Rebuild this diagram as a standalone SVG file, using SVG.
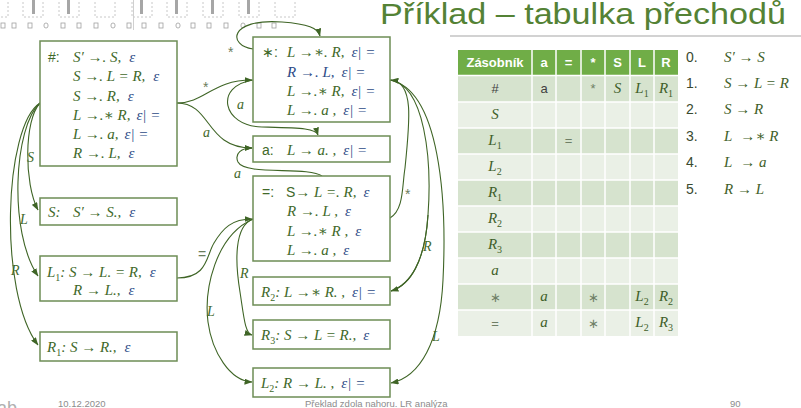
<svg xmlns="http://www.w3.org/2000/svg" width="801" height="408" viewBox="0 0 801 408">
  <style>
    .box { fill: #ffffff; stroke: #6d8d55; stroke-width: 1.5; }
    .m { font-family: "Liberation Serif", "DejaVu Serif", serif; font-style: italic; font-size: 15px; fill: #41692a; }
    .b { fill: #2d4b87; }
    .sub { font-size: 10px; font-style: normal; }
    .st { font-family: "Liberation Sans", Arial, sans-serif; font-size: 14px; fill: #41692a; }
    .edge { fill: none; stroke: #3f6526; stroke-width: 1.1; marker-end: url(#arr); }
    .edge0 { fill: none; stroke: #3f6526; stroke-width: 1.1; }
    .el { font-family: "Liberation Serif", "DejaVu Serif", serif; font-style: italic; font-size: 14px; fill: #41692a; }
    .es { font-family: "Liberation Sans", Arial, sans-serif; font-size: 14px; fill: #6a7d5c; }
    .hd { font-family: "Liberation Sans", Arial, sans-serif; font-weight: bold; font-size: 13px; fill: #ffffff; text-anchor: middle; }
    .cs { font-family: "Liberation Sans", Arial, sans-serif; font-size: 13px; fill: #404040; text-anchor: middle; }
    .cm { font-family: "Liberation Serif", "DejaVu Serif", serif; font-style: italic; font-size: 15px; fill: #3f5f2a; text-anchor: middle; }
    .cg { font-family: "Liberation Sans", Arial, sans-serif; font-size: 13px; fill: #6f7f66; text-anchor: middle; }
    .num { font-family: "Liberation Sans", Arial, sans-serif; font-size: 14px; fill: #3a4a30; }
    .rule { font-family: "Liberation Serif", "DejaVu Serif", serif; font-style: italic; font-size: 15px; fill: #3f5f2a; }
    .foot { font-family: "Liberation Sans", Arial, sans-serif; font-size: 9.5px; fill: #8c8c8c; }
    .dash { fill: none; stroke: #c8c8c8; stroke-width: 1; stroke-dasharray: 2 2; }
    .bar { fill: #a6a6a6; }
    .sq { fill: none; stroke: #a0a0a0; stroke-width: 0.8; }
  </style>
  <defs>
    <marker id="arr" markerWidth="8" markerHeight="6" refX="7.5" refY="3" orient="auto" markerUnits="userSpaceOnUse">
      <path d="M0,0 L8,3 L0,6 z" fill="#3f6526"/>
    </marker>
  </defs>

  <!-- page chrome: placeholder strip along the top edge -->
  <g id="chrome">
    <rect class="dash" x="-12" y="-2" width="20" height="19"/>
    <rect class="dash" x="23" y="-2" width="20" height="19"/>
    <rect class="dash" x="59" y="-2" width="20" height="19"/>
    <rect class="dash" x="95" y="-2" width="20" height="19"/>
    <rect class="dash" x="132" y="-2" width="20" height="19"/>
    <rect class="dash" x="167" y="-2" width="20" height="19"/>
    <rect class="dash" x="203" y="-2" width="20" height="19"/>
    <rect class="dash" x="239" y="-2" width="20" height="19"/>
    <rect class="dash" x="275" y="-2" width="20" height="19"/>
    <rect class="bar" x="32" y="0" width="3" height="14"/>
    <rect class="bar" x="67" y="0" width="3" height="14"/>
    <rect class="bar" x="140" y="0" width="3" height="14"/>
    <rect class="bar" x="175" y="0" width="3" height="14"/>
    <rect class="bar" x="211" y="0" width="3" height="14"/>
    <rect class="bar" x="247" y="0" width="3" height="14"/>
    <line x1="133.5" y1="0" x2="133.5" y2="30" stroke="#d0d0d0" stroke-width="1"/>
    <rect class="sq" x="1" y="23" width="4" height="5"/>
    <rect class="sq" x="12" y="23" width="4" height="5"/>
    <rect class="sq" x="28" y="23" width="4" height="5"/>
    <rect class="sq" x="44" y="23" width="4" height="5" rx="2"/>
    <rect class="sq" x="61" y="23" width="4" height="5"/>
    <rect class="sq" x="77" y="23" width="4" height="5"/>
    <rect class="sq" x="94" y="23" width="4" height="5"/>
    <rect class="sq" x="111" y="23" width="4" height="5" rx="2"/>
    <rect class="sq" x="127" y="23" width="4" height="5"/>
    <rect class="sq" x="142" y="23" width="4" height="5"/>
    <rect class="sq" x="159" y="23" width="4" height="5"/>
    <rect class="sq" x="176" y="23" width="4" height="5" rx="2"/>
    <rect class="sq" x="191" y="23" width="4" height="5"/>
    <rect class="sq" x="207" y="23" width="4" height="5"/>
    <rect class="sq" x="224" y="23" width="4" height="5"/>
    <rect class="sq" x="241" y="23" width="4" height="5" rx="2"/>
    <rect class="sq" x="257" y="23" width="4" height="5"/>
    <rect class="sq" x="272" y="23" width="4" height="5"/>
  </g>

  <!-- title -->
  <text x="380" y="24" font-family="'Liberation Sans', Arial, sans-serif" font-size="30" fill="#548235" textLength="406" lengthAdjust="spacingAndGlyphs">Příklad – tabulka přechodů</text>
  <line x1="450" y1="36" x2="801" y2="36" stroke="#a6a6a6" stroke-width="1.2"/>

  <!-- transitions -->
  <g id="connectors">
    <path class="edge" d="M177,103 C205,103 212,80 252,80"/>
    <text class="es" x="203" y="92">*</text>
    <path class="edge" d="M177,103 C212,103 205,148 252,148"/>
    <text class="el" x="203" y="137">a</text>
    <path class="edge" d="M253,49 C228,46 228,18 282,22 C308,24 318,28 320,36"/>
    <text class="es" x="228" y="57">*</text>
    <path class="edge" d="M253,80 C214,86 222,126 262,127 C300,128 316,128 318,135"/>
    <text class="el" x="237" y="109">a</text>
    <path class="edge" d="M322,176 C308,166 245,176 238,162 C234,153 242,148 252,148"/>
    <text class="el" x="234" y="178">a</text>
    <path class="edge" d="M390,218 C404,210 402,186 405,168 C410,120 414,82 391,80"/>
    <text class="es" x="405" y="199">*</text>
    <path class="edge0" d="M390,80 C425,85 432,160 428,215 C425,262 410,285 391,291"/>
    <path class="edge" d="M428,215 C425,262 410,285 391,291"/>
    <text class="el" x="423" y="251">R</text>
    <path class="edge" d="M390,80 C440,90 447,200 443,280 C440,342 420,377 391,383"/>
    <text class="el" x="432" y="341">L</text>
    <path class="edge" d="M177,278 C208,278 206,256 214,243 C223,228 232,219 252,219"/>
    <text class="es" x="198" y="259">=</text>
    <path class="edge" d="M253,219 C234,226 235,262 240,292 C244,318 245,333 252,335"/>
    <text class="el" x="240" y="278">R</text>
    <path class="edge" d="M253,219 C215,236 204,290 208,322 C212,352 230,381 252,382"/>
    <text class="el" x="207" y="316">L</text>
    <path class="edge" d="M40,103 C24,120 24,184 38,210"/>
    <text class="el" x="27" y="162">S</text>
    <path class="edge" d="M40,103 C14,126 8,232 38,276"/>
    <text class="el" x="20" y="224">L</text>
    <path class="edge" d="M40,103 C4,126 -2,292 38,345"/>
    <text class="el" x="11" y="275">R</text>
  </g>

  <!-- LR(1) item sets -->
  <g id="state-hash">
    <rect class="box" x="40" y="41" width="137" height="125"/>
    <text class="st" x="48" y="62">#:</text>
    <text class="m" x="73" y="62">S′ →. S,<tspan class="b" dx="8">ε</tspan></text>
    <text class="m" x="73" y="81">S →. L = R,<tspan class="b" dx="8">ε</tspan></text>
    <text class="m" x="73" y="101">S →. R,<tspan class="b" dx="8">ε</tspan></text>
    <text class="m" x="73" y="120">L →.∗ R,<tspan class="b" dx="6">ε| =</tspan></text>
    <text class="m" x="73" y="139">L →. a,<tspan class="b" dx="6">ε| =</tspan></text>
    <text class="m" x="73" y="158">R →. L,<tspan class="b" dx="8">ε</tspan></text>
  </g>

  <g id="state-S">
    <rect class="box" x="40" y="198" width="137" height="27"/>
    <text class="m" x="48" y="217" font-style="normal">S:</text>
    <text class="m" x="73" y="217">S′ → S.,<tspan class="b" dx="8">ε</tspan></text>
  </g>

  <g id="state-L1">
    <rect class="box" x="40" y="256" width="137" height="45"/>
    <text class="m" x="47" y="277">L<tspan class="sub" dy="4">1</tspan><tspan dy="-4">: S → L. = R,</tspan><tspan class="b" dx="8">ε</tspan></text>
    <text class="m" x="73" y="295">R → L.,<tspan class="b" dx="8">ε</tspan></text>
  </g>

  <g id="state-R1">
    <rect class="box" x="40" y="332" width="137" height="29"/>
    <text class="m" x="47" y="352">R<tspan class="sub" dy="4">1</tspan><tspan dy="-4">: S → R.,</tspan><tspan class="b" dx="8">ε</tspan></text>
  </g>

  <g id="state-star">
    <rect class="box" x="253" y="37" width="137" height="85"/>
    <text class="st" x="262" y="57">∗:</text>
    <text class="m" x="287" y="57">L →∗. R,<tspan class="b" dx="7">ε| =</tspan></text>
    <text class="m b" x="287" y="77">R →. L,<tspan dx="7">ε| =</tspan></text>
    <text class="m" x="287" y="96">L →.∗ R,<tspan class="b" dx="7">ε| =</tspan></text>
    <text class="m" x="287" y="115">L →. a ,<tspan class="b" dx="7">ε| =</tspan></text>
  </g>

  <g id="state-a">
    <rect class="box" x="253" y="136" width="137" height="26"/>
    <text class="st" x="262" y="155">a:</text>
    <text class="m" x="287" y="155">L → a. ,<tspan class="b" dx="7">ε| =</tspan></text>
  </g>

  <g id="state-eq">
    <rect class="box" x="253" y="176" width="137" height="85"/>
    <text class="st" x="262" y="197">=:</text>
    <text class="m" x="286" y="197"><tspan font-style="normal" font-family="'Liberation Sans', Arial, sans-serif" font-size="14">S</tspan>→ L =. R,<tspan class="b" dx="7">ε</tspan></text>
    <text class="m" x="287" y="216">R →. L ,<tspan class="b" dx="7">ε</tspan></text>
    <text class="m" x="287" y="236">L →.∗ R ,<tspan class="b" dx="7">ε</tspan></text>
    <text class="m" x="287" y="255">L →. a ,<tspan class="b" dx="7">ε</tspan></text>
  </g>

  <g id="state-R2">
    <rect class="box" x="253" y="277" width="137" height="28"/>
    <text class="m" x="261" y="297">R<tspan class="sub" dy="4">2</tspan><tspan dy="-4">: L →∗ R. ,</tspan><tspan class="b" dx="7">ε| =</tspan></text>
  </g>

  <g id="state-R3">
    <rect class="box" x="253" y="320" width="137" height="29"/>
    <text class="m" x="261" y="340">R<tspan class="sub" dy="4">3</tspan><tspan dy="-4">: S → L = R.,</tspan><tspan class="b" dx="7">ε</tspan></text>
  </g>

  <g id="state-L2">
    <rect class="box" x="253" y="368" width="137" height="29"/>
    <text class="m" x="261" y="388">L<tspan class="sub" dy="4">2</tspan><tspan dy="-4">: R → L. ,</tspan><tspan class="b" dx="7">ε| =</tspan></text>
  </g>

  <!-- goto table -->
  <g id="table">
    <rect x="458" y="50" width="220" height="25" fill="#70ad47"/>
    <rect x="458" y="76" width="220" height="26" fill="#d6e3ce"/>
    <rect x="458" y="102" width="220" height="26" fill="#eaf0e6"/>
    <rect x="458" y="128" width="220" height="26" fill="#d6e3ce"/>
    <rect x="458" y="154" width="220" height="26" fill="#eaf0e6"/>
    <rect x="458" y="180" width="220" height="26" fill="#d6e3ce"/>
    <rect x="458" y="206" width="220" height="26" fill="#eaf0e6"/>
    <rect x="458" y="232" width="220" height="26" fill="#d6e3ce"/>
    <rect x="458" y="258" width="220" height="26" fill="#eaf0e6"/>
    <rect x="458" y="284" width="220" height="26" fill="#d6e3ce"/>
    <rect x="458" y="310" width="220" height="26" fill="#eaf0e6"/>
    <g stroke="#ffffff" stroke-width="1.5">
      <line x1="532" y1="50" x2="532" y2="336"/>
      <line x1="556" y1="50" x2="556" y2="336"/>
      <line x1="581" y1="50" x2="581" y2="336"/>
      <line x1="605" y1="50" x2="605" y2="336"/>
      <line x1="630" y1="50" x2="630" y2="336"/>
      <line x1="654" y1="50" x2="654" y2="336"/>
      <line x1="458" y1="75.5" x2="678" y2="75.5"/>
      <line x1="458" y1="102" x2="678" y2="102"/>
      <line x1="458" y1="128" x2="678" y2="128"/>
      <line x1="458" y1="154" x2="678" y2="154"/>
      <line x1="458" y1="180" x2="678" y2="180"/>
      <line x1="458" y1="206" x2="678" y2="206"/>
      <line x1="458" y1="232" x2="678" y2="232"/>
      <line x1="458" y1="258" x2="678" y2="258"/>
      <line x1="458" y1="284" x2="678" y2="284"/>
      <line x1="458" y1="310" x2="678" y2="310"/>
    </g>
    <text class="hd" x="495" y="67">Zásobník</text>
    <text class="hd" x="544" y="67">a</text>
    <text class="hd" x="568.5" y="67">=</text>
    <text class="hd" x="593" y="67">*</text>
    <text class="hd" x="617.5" y="67">S</text>
    <text class="hd" x="642" y="67">L</text>
    <text class="hd" x="666" y="67">R</text>

    <!-- row # -->
    <text class="cs" x="495" y="93">#</text>
    <text class="cs" x="544" y="93">a</text>
    <text class="cg" x="593" y="93">*</text>
    <text class="cm" x="617.5" y="93">S</text>
    <text class="cm" x="642" y="93">L<tspan class="sub" dy="4">1</tspan></text>
    <text class="cm" x="666" y="93">R<tspan class="sub" dy="4">1</tspan></text>
    <!-- first column -->
    <text class="cm" x="495" y="119">S</text>
    <text class="cm" x="495" y="145">L<tspan class="sub" dy="4">1</tspan></text>
    <text class="cg" x="568.5" y="145" font-size="16">=</text>
    <text class="cm" x="495" y="171">L<tspan class="sub" dy="4">2</tspan></text>
    <text class="cm" x="495" y="197">R<tspan class="sub" dy="4">1</tspan></text>
    <text class="cm" x="495" y="223">R<tspan class="sub" dy="4">2</tspan></text>
    <text class="cm" x="495" y="249">R<tspan class="sub" dy="4">3</tspan></text>
    <text class="cm" x="495" y="275">a</text>
    <!-- row * -->
    <text class="cg" x="495" y="302">∗</text>
    <text class="cm" x="544" y="301">a</text>
    <text class="cg" x="593" y="302">∗</text>
    <text class="cm" x="642" y="301">L<tspan class="sub" dy="4">2</tspan></text>
    <text class="cm" x="666" y="301">R<tspan class="sub" dy="4">2</tspan></text>
    <!-- row = -->
    <text class="cg" x="495" y="328" font-size="16">=</text>
    <text class="cm" x="544" y="327">a</text>
    <text class="cg" x="593" y="328">∗</text>
    <text class="cm" x="642" y="327">L<tspan class="sub" dy="4">2</tspan></text>
    <text class="cm" x="666" y="327">R<tspan class="sub" dy="4">3</tspan></text>
  </g>

  <!-- grammar -->
  <g id="grammar">
    <text class="num" x="686" y="62">0.</text>
    <text class="rule" x="724" y="62">S′ → S</text>
    <text class="num" x="686" y="88">1.</text>
    <text class="rule" x="724" y="88">S → L = R</text>
    <text class="num" x="686" y="114">2.</text>
    <text class="rule" x="724" y="114">S → R</text>
    <text class="num" x="686" y="141">3.</text>
    <text class="rule" x="724" y="141">L<tspan dx="8">→∗ R</tspan></text>
    <text class="num" x="686" y="167">4.</text>
    <text class="rule" x="724" y="167">L<tspan dx="8">→ a</tspan></text>
    <text class="num" x="686" y="194">5.</text>
    <text class="rule" x="724" y="194">R → L</text>
  </g>

  <!-- footer -->
  <text x="-3" y="414" font-family="'Liberation Sans', Arial, sans-serif" font-size="18" fill="#b0b0b0">ab</text>
  <text class="foot" x="58" y="407">10.12.2020</text>
  <text class="foot" x="305" y="407">Překlad zdola nahoru. LR analýza</text>
  <text class="foot" x="730" y="407">90</text>
</svg>
